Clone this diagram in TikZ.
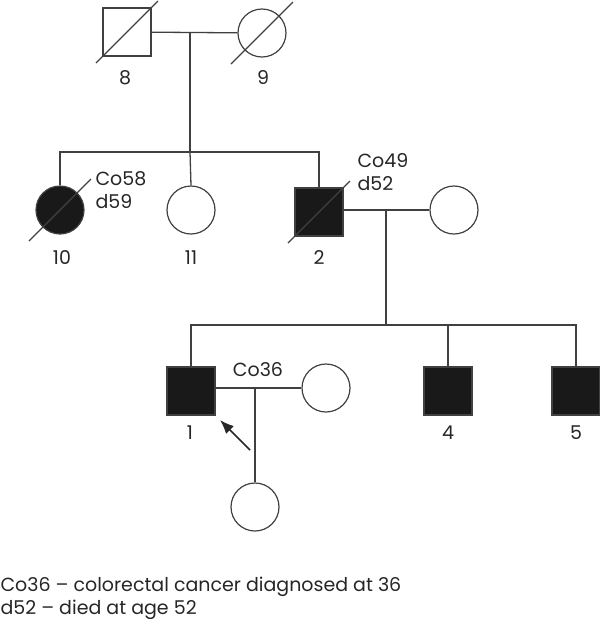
\documentclass[tikz,border=0pt]{standalone}
\usepackage{fontspec}
\setmainfont{Poppins}
\usetikzlibrary{arrows.meta}

\tikzset{
  male/.style={draw=black!75,line width=1.2pt,minimum size=48pt,inner sep=0pt},
  female/.style={circle,draw=black!75,line width=1.2pt,minimum size=48pt,inner sep=0pt},
  hit/.style={fill=black!90},
  link/.style={draw=black!75,line width=1.3pt},
  lbl/.style={font=\fontsize{19}{23}\selectfont,text=black!85}
}
\newcommand{\deadmark}[1]{\draw[link] (#1.center) ++(-31,31) -- ++(62,-62);}

\begin{document}
\begin{tikzpicture}[x=1pt,y=-1pt]
  \useasboundingbox (0,0) rectangle (600,625);
  % first generation
  \node[male] (p8) at (127,32) {};
  \node[female] (p9) at (262,33) {};
  \deadmark{p8}
  \deadmark{p9}
  \node[lbl] at (125,78) {8};
  \node[lbl] at (263,78) {9};
  \coordinate (m89) at (190,32);
  \coordinate (s1) at (190,152);
  \draw[link] (p8) -- (p9);
  \draw[link] (m89) -- (s1);
  % second generation
  \node[female,hit] (p10) at (60,210) {};
  \node[female] (p11) at (191,210) {};
  \node[male,hit] (p2) at (319,212) {};
  \node[female] (w2) at (454,210) {};
  \deadmark{p10}
  \deadmark{p2}
  \node[lbl] at (62,258) {10};
  \node[lbl] at (191,258) {11};
  \node[lbl] at (319,258) {2};
  \node[lbl,anchor=west,align=left] at (92,190) {Co58\\d59};
  \node[lbl,anchor=west,align=left] at (354,172) {Co49\\d52};
  \draw[link] (p10.north) |- (s1) -| (p2.north);
  \draw[link] (s1) -- (p11.north);
  \coordinate (m2) at (386,210);
  \coordinate (s2) at (386,325);
  \draw[link] (p2.east |- w2) -- (w2);
  \draw[link] (m2) -- (s2);
  % third generation
  \node[male,hit] (p1) at (191,391) {};
  \node[female] (w1) at (326,388) {};
  \node[male,hit] (p4) at (448,391) {};
  \node[male,hit] (p5) at (576,391) {};
  \node[lbl] at (190,433) {1};
  \node[lbl] at (448,433) {4};
  \node[lbl] at (576,433) {5};
  \node[lbl] at (258,370) {Co36};
  \draw[link] (p1.north) |- (s2) -| (p5.north);
  \draw[link] (p4.north) -- (p4.north |- s2);
  \coordinate (m1) at (255,388);
  \node[female] (c1) at (255,507) {};
  \draw[link] (p1.east |- w1) -- (w1);
  \draw[link] (m1) -- (c1);
  \coordinate (a0) at (250,450);
  \coordinate (a1) at (220,420);
  \draw[-{Latex[length=14pt,width=11pt]},line width=1.6pt,black!85] (a0) -- (a1);
  % legend
  \node[lbl,anchor=west,align=left] at (-3,598) {Co36 – colorectal cancer diagnosed at 36\\d52 – died at age 52};
\end{tikzpicture}
\end{document}
